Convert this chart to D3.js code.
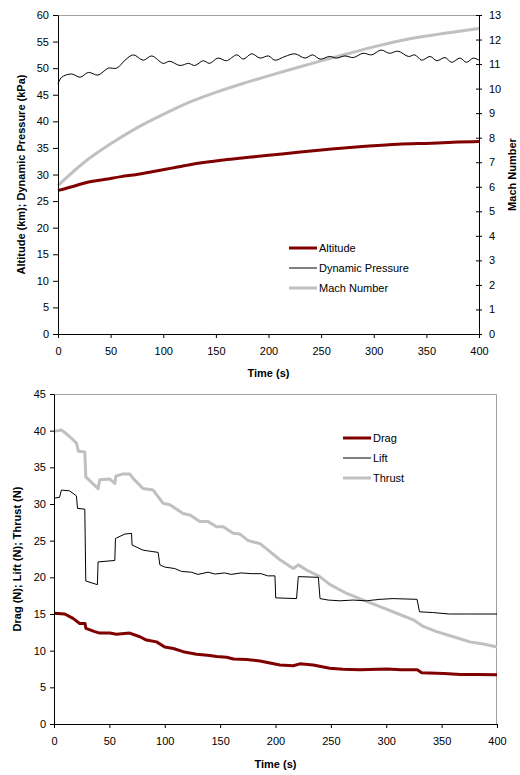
<!DOCTYPE html>
<html>
<head>
<meta charset="utf-8">
<script src="https://cdn.jsdelivr.net/npm/d3@7"></script>
<style>
  body { margin: 0; background: #fff; }
  svg text { font-family: "Liberation Sans", Arial, sans-serif; fill: #000; }
  .tick text { font-size: 11px; }
  .axisTitle { font-size: 11px; font-weight: bold; }
  .legendText { font-size: 11px; }
</style>
</head>
<body>
<div class="chart"></div>
<script>
// ---- data (time in s) ----
var timeTicks = [0, 50, 100, 150, 200, 250, 300, 350, 400];
var topLeftTicks = [0, 5, 10, 15, 20, 25, 30, 35, 40, 45, 50, 55, 60];
var machTicks = [0, 1, 2, 3, 4, 5, 6, 7, 8, 9, 10, 11, 12, 13];
var forceTicks = [0, 5, 10, 15, 20, 25, 30, 35, 40, 45];

// altitude, km
var altitude = [[0, 27.0], [15, 27.8], [29, 28.6], [45, 29.1], [60, 29.6], [75, 30.0],
  [92, 30.6], [108, 31.2], [124, 31.8], [140, 32.3], [155, 32.7], [175, 33.1],
  [200, 33.6], [228, 34.2], [260, 34.8], [292, 35.3], [323, 35.7], [355, 35.9],
  [380, 36.1], [400, 36.2]];

// dynamic pressure, kPa
var dynPressure = [[0, 47.0], [3.5, 48.3], [13, 48.9], [21, 48.3], [29, 49.2], [38, 48.7],
  [47.8, 50.0], [55.8, 50.0], [63.7, 51.5], [71.6, 52.5], [81, 51.5], [89, 52.3],
  [100, 50.9], [106, 51.3], [116, 50.5], [124, 50.9], [130, 50.5], [138, 51.4],
  [144, 50.9], [152, 51.9], [160, 51.4], [170, 52.5], [176, 51.7], [184, 52.7],
  [192, 51.9], [200, 52.3], [206, 51.5], [215.7, 52.2], [225, 52.7], [234.7, 51.9],
  [242, 52.5], [249, 51.7], [258, 52.2], [264.7, 51.9], [272.6, 52.3], [280.5, 52.0],
  [290, 52.8], [298, 52.5], [307, 53.4], [315, 52.8], [323, 53.2], [333, 52.2],
  [339, 52.5], [345.6, 51.5], [353.5, 52.2], [360, 51.4], [367.7, 52.0], [374, 51.1],
  [382, 51.9], [388, 51.1], [394.6, 51.9], [400, 51.5]];

// Mach number (right axis)
var mach = [[0, 6.05], [25, 7.0], [50, 7.75], [75, 8.4], [100, 8.95], [125, 9.45],
  [150, 9.85], [175, 10.2], [200, 10.52], [225, 10.83], [250, 11.13], [275, 11.42],
  [300, 11.7], [325, 11.95], [350, 12.14], [375, 12.3], [400, 12.45]];

// drag, N
var drag = [[0, 15.1], [9.7, 15.0], [17.2, 14.4], [23.2, 13.7], [28, 13.7], [28.8, 13.05],
  [36.8, 12.6], [41.3, 12.4], [50.4, 12.4], [56.4, 12.25], [68.4, 12.4], [77.5, 11.9],
  [83.5, 11.45], [92.6, 11.2], [100, 10.5], [107.8, 10.3], [116.6, 9.86], [128.7, 9.5],
  [140.8, 9.35], [146.8, 9.2], [155.9, 9.1], [162, 8.86], [174, 8.8], [186, 8.6],
  [204, 8.05], [216, 7.95], [222, 8.2], [234, 8.05], [249, 7.6], [261, 7.45],
  [276, 7.4], [301, 7.5], [313, 7.4], [328, 7.4], [332, 7.0], [352, 6.9],
  [367, 6.75], [382, 6.75], [400, 6.7]];

// lift, N
var lift = [[0, 30.8], [5, 30.9], [6.7, 31.9], [14, 31.8], [20.3, 31.1], [21.2, 29.4],
  [27.8, 29.3], [28.7, 19.5], [39.2, 19.0], [39.8, 22.1], [54.9, 22.3], [55.5, 25.3],
  [63.9, 25.9], [70, 26.0], [70.5, 24.4], [80.5, 23.7], [85, 23.6], [94, 23.4],
  [95.6, 21.7], [100, 21.4], [109, 21.2], [115.2, 20.8], [124, 20.7], [130, 20.4],
  [139.2, 20.7], [145.3, 20.45], [154, 20.6], [160, 20.4], [169, 20.6], [178, 20.5],
  [187, 20.5], [193, 20.2], [199.5, 20.2], [200.2, 17.2], [219, 17.1], [220.6, 20.1],
  [238.7, 20.0], [240.2, 17.1], [247.7, 16.9], [258.3, 16.8], [270, 16.9], [282, 16.8],
  [294.3, 17.0], [306, 17.1], [327.8, 17.0], [330, 15.3], [342, 15.2], [357, 15.0],
  [375, 15.0], [400, 15.0]];

// thrust, N
var thrust = [[0, 39.9], [6.7, 40.1], [14, 39.2], [20.3, 38.3], [22, 37.2], [27.8, 37.1],
  [28.7, 33.7], [39.8, 32.1], [41.3, 33.3], [50.4, 33.4], [54.9, 32.8], [55.8, 33.8],
  [62.4, 34.1], [68.4, 34.1], [71.4, 33.5], [80.5, 32.1], [89.5, 31.9], [98.5, 30.1],
  [104.6, 29.9], [116.6, 28.7], [122.7, 28.5], [131.7, 27.6], [139.2, 27.6], [146.8, 26.9],
  [152.8, 26.9], [161.8, 26.0], [167.9, 25.9], [175.4, 25.0], [186, 24.6], [195, 23.5],
  [204, 22.4], [216, 21.2], [220.6, 21.7], [228, 21.0], [240, 20.1], [249.3, 19.0],
  [264.3, 17.8], [279.3, 16.9], [294.3, 16.0], [309.4, 15.1], [324.4, 14.2], [333.4, 13.3],
  [345.5, 12.6], [360.6, 11.9], [375.6, 11.2], [387.6, 10.9], [400, 10.5]];

var red = "#800000", grey = "#c0c0c0";

var svg = d3.select(".chart")
  .append("svg")
  .attr("width", 520)
  .attr("height", 775);

// generic line drawer
function drawLine(g, data, x, y, color, w, curve) {
  g.append("path")
    .datum(data)
    .attr("fill", "none")
    .attr("stroke", color)
    .attr("stroke-width", w)
    .attr("stroke-linejoin", "round")
    .attr("d", d3.line()
      .x(d => x(d[0]))
      .y(d => y(d[1]))
      .curve(curve || d3.curveLinear));
}

function styleAxis(a) {
  a.select(".domain").attr("stroke", "#000");
  a.selectAll(".tick line").attr("stroke", "#000");
  a.selectAll(".tick text").attr("fill", "#000");
}

function legend(g, x0, y0, items) {
  items.forEach(function(it, i) {
    var yy = y0 + i * 20;
    g.append("line")
      .attr("x1", x0).attr("x2", x0 + 28)
      .attr("y1", yy).attr("y2", yy)
      .attr("stroke", it.color).attr("stroke-width", it.w);
    g.append("text")
      .attr("class", "legendText")
      .attr("x", x0 + 30).attr("y", yy)
      .attr("dy", "0.35em")
      .text(it.name);
  });
}

// ================= top chart =================
var t = { left: 58, right: 479, top: 15, bottom: 334 };

var x1 = d3.scaleLinear().domain([0, 400]).range([t.left, t.right]);
var yL = d3.scaleLinear().domain([0, 60]).range([t.bottom, t.top]);
var yR = d3.scaleLinear().domain([0, 13]).range([t.bottom, t.top]);

var topG = svg.append("g");

// plot frame (top edge grey)
topG.append("line")
  .attr("x1", t.left).attr("x2", t.right)
  .attr("y1", t.top + 0.5).attr("y2", t.top + 0.5)
  .attr("stroke", "#a0a0a0");

drawLine(topG, mach, x1, yR, grey, 3, d3.curveMonotoneX);
drawLine(topG, altitude, x1, yL, red, 3, d3.curveMonotoneX);
drawLine(topG, dynPressure, x1, yL, "#000", 1, d3.curveCatmullRom);

var ax1 = topG.append("g")
  .attr("transform", `translate(0,${t.bottom})`)
  .call(d3.axisBottom(x1).tickValues(timeTicks).tickSize(4).tickSizeOuter(0).tickPadding(9));
styleAxis(ax1);

var ayL = topG.append("g")
  .attr("transform", `translate(${t.left},0)`)
  .call(d3.axisLeft(yL).tickValues(topLeftTicks).tickSize(5).tickSizeOuter(0).tickPadding(4));
styleAxis(ayL);

var ayR = topG.append("g")
  .attr("transform", `translate(${t.right},0)`)
  .call(d3.axisRight(yR).tickValues(machTicks).tickSize(3).tickSizeOuter(0).tickPadding(7));
ayR.selectAll(".tick line").attr("x1", -3);
styleAxis(ayR);

topG.append("text")
  .attr("class", "axisTitle")
  .attr("text-anchor", "middle")
  .attr("x", (t.left + t.right) / 2)
  .attr("y", 377)
  .text("Time (s)");

topG.append("text")
  .attr("class", "axisTitle")
  .attr("text-anchor", "middle")
  .attr("transform", `translate(25,${(t.top + t.bottom) / 2}) rotate(-90)`)
  .text("Altitude (km); Dynamic Pressure (kPa)");

topG.append("text")
  .attr("class", "axisTitle")
  .attr("text-anchor", "middle")
  .attr("transform", `translate(516,${(t.top + t.bottom) / 2}) rotate(-90)`)
  .text("Mach Number");

legend(topG, 289, 248, [
  { name: "Altitude", color: red, w: 3 },
  { name: "Dynamic Pressure", color: "#000", w: 1 },
  { name: "Mach Number", color: grey, w: 3 }
]);

// ================= bottom chart =================
var b = { left: 54, right: 497, top: 394, bottom: 724 };

var x2 = d3.scaleLinear().domain([0, 400]).range([b.left, b.right]);
var y2 = d3.scaleLinear().domain([0, 45]).range([b.bottom, b.top]);

var botG = svg.append("g");

botG.append("path")
  .attr("d", `M${b.left},${b.top + 0.5}H${b.right - 0.5}V${b.bottom}`)
  .attr("fill", "none")
  .attr("stroke", "#a0a0a0");

drawLine(botG, thrust, x2, y2, grey, 3);
drawLine(botG, lift, x2, y2, "#000", 1);
drawLine(botG, drag, x2, y2, red, 3);

var ax2 = botG.append("g")
  .attr("transform", `translate(0,${b.bottom})`)
  .call(d3.axisBottom(x2).tickValues(timeTicks).tickSize(4).tickSizeOuter(0).tickPadding(9));
styleAxis(ax2);

var ay2 = botG.append("g")
  .attr("transform", `translate(${b.left},0)`)
  .call(d3.axisLeft(y2).tickValues(forceTicks).tickSize(4).tickSizeOuter(0).tickPadding(4));
styleAxis(ay2);

botG.append("text")
  .attr("class", "axisTitle")
  .attr("text-anchor", "middle")
  .attr("x", (b.left + b.right) / 2)
  .attr("y", 768)
  .text("Time (s)");

botG.append("text")
  .attr("class", "axisTitle")
  .attr("text-anchor", "middle")
  .attr("transform", `translate(21,${(b.top + b.bottom) / 2}) rotate(-90)`)
  .text("Drag (N); Lift (N); Thrust (N)");

legend(botG, 343, 438, [
  { name: "Drag", color: red, w: 3 },
  { name: "Lift", color: "#000", w: 1 },
  { name: "Thrust", color: grey, w: 3 }
]);
</script>
</body>
</html>
